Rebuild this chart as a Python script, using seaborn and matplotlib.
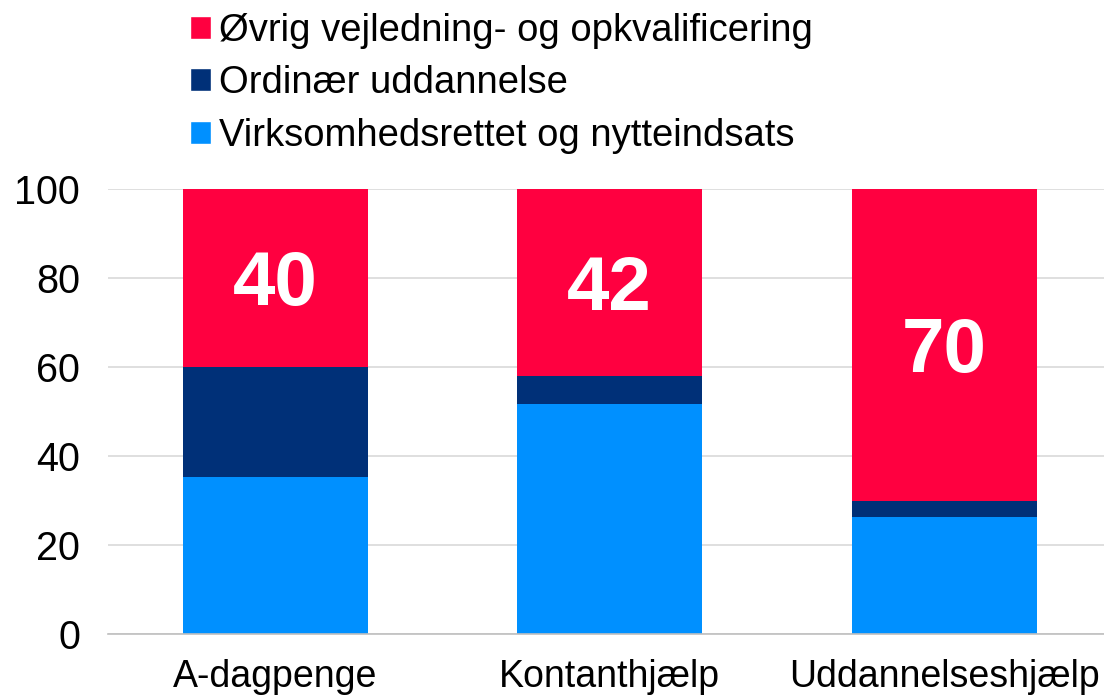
import matplotlib
matplotlib.use("Agg")
import matplotlib.pyplot as plt
import seaborn as sns
import numpy as np
import pandas as pd
from matplotlib.patches import Patch

categories = ["A-dagpenge", "Kontanthjælp", "Uddannelseshjælp"]
virksomhed = [35.3, 51.7, 26.3]
ordinaer = [24.7, 6.3, 3.7]
oevrig = [40, 42, 70]
series_names = ["Virksomhedsrettet og nytteindsats", "Ordinær uddannelse",
                "Øvrig vejledning- og opkvalificering"]
colors = ["#0090FF", "#003078", "#FF0040"]

sns.set_theme(style="white")
plt.rcParams['font.family'] = ['Liberation Sans', 'DejaVu Sans']
plt.rcParams['text.color'] = 'black'
plt.rcParams['xtick.color'] = 'black'
plt.rcParams['ytick.color'] = 'black'

fig = plt.figure(figsize=(11.04, 6.96), dpi=100)
ax = fig.add_axes([108/1104, 62/696, (1111.5-108)/1104, 445/696])

v = np.array(virksomhed)
o = np.array(ordinaer)
r = np.array(oevrig)
tops = [v + o + r, v + o, v]
layer_colors = [colors[2], colors[1], colors[0]]
for t, c in zip(tops, layer_colors):
    df = pd.DataFrame({"cat": categories, "val": t})
    sns.barplot(data=df, x="cat", y="val", color=c, saturation=1, width=0.553,
                ax=ax, zorder=2, edgecolor="none")

fs_val = 55
for i, (b, h) in enumerate(zip(v + o, r)):
    ax.annotate(f"{h:.0f}", xy=(i, b + h / 2), xytext=(0, -fs_val * 0.716 / 2),
                textcoords="offset points", ha="center", va="baseline",
                color="white", fontsize=fs_val, fontweight="bold", zorder=5)

ax.set_ylim(0, 100)
ax.set_xlim(-0.5, 2.5)
ax.set_yticks([0, 20, 40, 60, 80, 100])
ax.set_xlabel("")
ax.set_ylabel("")
ax.yaxis.grid(True, color="#d9d9d9", linewidth=1.2, zorder=0)
ax.set_axisbelow(True)
for s in ["top", "right", "left"]:
    ax.spines[s].set_visible(False)
ax.spines["bottom"].set_color("#bfbfbf")
ax.spines["bottom"].set_linewidth(1.2)
ax.tick_params(axis="y", length=0, pad=20, labelsize=28.5, labelcolor="black")
ax.tick_params(axis="x", which="major", length=0, pad=18, labelsize=27, labelcolor="black")
ax.set_xticks([0.5, 1.5, 2.5, -0.5], minor=True)
ax.tick_params(axis="x", which="minor", length=9, color="#bfbfbf", width=1.2, direction="out")
ax.set_xticks(range(len(categories)))
ax.set_xticklabels(categories)

handles = [Patch(facecolor=colors[2]), Patch(facecolor=colors[1]), Patch(facecolor=colors[0])]
labels = [series_names[2], series_names[1], series_names[0]]
fig.legend(handles, labels, loc="upper left", bbox_to_anchor=(186/1104, 1 - 9/696),
           frameon=False, fontsize=27.5, handlelength=0.55, handleheight=0.55,
           handletextpad=0.22, labelspacing=0.43, borderaxespad=0.0, borderpad=0.1,
           labelcolor="black")

fig.savefig("out.png", dpi=100)
